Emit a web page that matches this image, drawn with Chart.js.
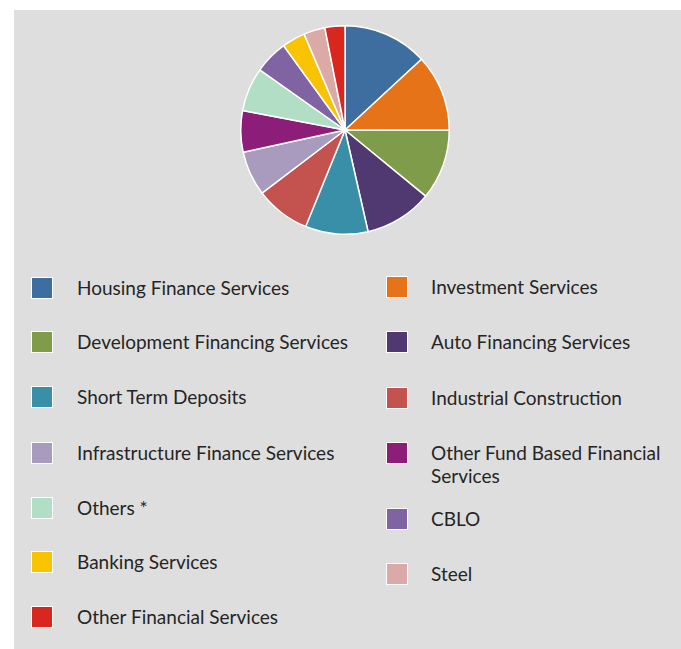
<!DOCTYPE html>
<html>
<head>
<meta charset="utf-8">
<script src="https://cdn.jsdelivr.net/npm/chart.js@4/dist/chart.umd.min.js"></script>
<style>
  html, body { margin: 0; padding: 0; background: #ffffff; }
  body { width: 681px; height: 649px; position: relative; overflow: hidden; }
  #panel { position: absolute; left: 14px; top: 10px; right: 0; bottom: 0; background: #dedede; }
  #pieBox { position: absolute; left: 240px; top: 25px; width: 210px; height: 210px; }
  .item { position: absolute; font-family: Lato, "Open Sans", sans-serif; font-size: 19px; color: #252525; line-height: 23px; }
  .sw { position: absolute; width: 20px; height: 20px; border: 1px solid #ffffff; }
  .txt { position: absolute; white-space: nowrap; }
</style>
</head>
<body>
<div id="panel"></div>
<div id="pieBox"><canvas id="pie"></canvas></div>
<div id="legend"></div>
<script>
// Portfolio composition by sector (%), in drawing order, clockwise from 12 o'clock
const sectors = [
  "Housing Finance Services",
  "Investment Services",
  "Development Financing Services",
  "Auto Financing Services",
  "Short Term Deposits",
  "Industrial Construction",
  "Infrastructure Finance Services",
  "Other Fund Based Financial Services",
  "Others *",
  "CBLO",
  "Banking Services",
  "Steel",
  "Other Financial Services"
];
const shares = [13.1, 11.9, 10.9, 10.5, 9.7, 8.5, 6.9, 6.4, 6.8, 5.2, 3.6, 3.3, 3.1];
const sectorColors = [
  "#3e6d9f", "#e67317", "#7f9c4a", "#503871", "#3a8fa8", "#c4524e", "#a89bbd",
  "#8c1d78", "#b3dec6", "#8063a3", "#f8c300", "#dcaaa6", "#d9261e"
];

new Chart(document.getElementById("pie"), {
  type: "pie",
  data: {
    labels: sectors,
    datasets: [{
      data: shares,
      backgroundColor: sectorColors,
      borderColor: "#ffffff",
      borderWidth: 1.5
    }]
  },
  options: {
    responsive: true,
    maintainAspectRatio: false,
    animation: false,
    layout: { padding: 0 },
    plugins: { legend: { display: false }, tooltip: { enabled: false } }
  }
});

// Two-column legend: even entries on the left, odd entries on the right
const colX = [31, 386];
const textX = [77, 431];
const leftRowsY = [288, 342, 397, 453, 508, 562, 617];
const rightRowsY = [287, 342, 398, 453, 519, 574];

const legend = document.getElementById("legend");
sectors.forEach((name, i) => {
  const col = i % 2;
  const row = Math.floor(i / 2);
  const cy = col === 0 ? leftRowsY[row] : rightRowsY[row];
  const sw = document.createElement("div");
  sw.className = "item sw";
  sw.style.left = colX[col] + "px";
  sw.style.top = (cy - 11) + "px";
  sw.style.background = sectorColors[i];
  legend.appendChild(sw);
  const t = document.createElement("div");
  t.className = "item txt";
  t.style.left = textX[col] + "px";
  t.style.top = (cy - 12) + "px";
  if (name === "Other Fund Based Financial Services") {
    t.innerHTML = "Other Fund Based Financial<br>Services";
  } else {
    t.textContent = name;
  }
  legend.appendChild(t);
});
</script>
</body>
</html>
